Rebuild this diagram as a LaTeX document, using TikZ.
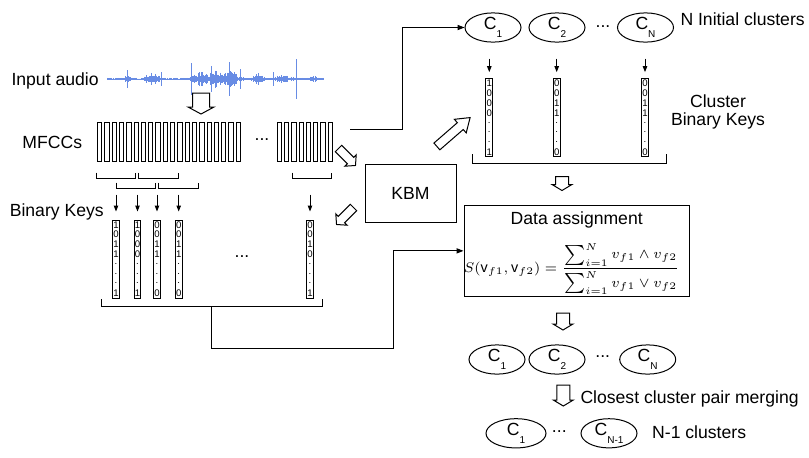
\documentclass[tikz,border=0pt]{standalone}
\usepackage{fontspec}
\setmainfont{Liberation Sans}
\usetikzlibrary{arrows.meta,shapes.geometric}

\definecolor{wavecol}{RGB}{104,140,228}

\newcommand{\winbracket}[4]{%
    \draw (#1,#3) -- (#1,#4) -- (#2,#4) -- (#2,#3);
}
\newcommand{\fatarrow}[7]{%
    \begin{scope}[shift={(#1,#2)}, rotate=#3]
        \draw[fill=white] ({-#4/2},{-#5/2}) -- ({#4/2-#7},{-#5/2}) -- ({#4/2-#7},{-#6/2})
            -- ({#4/2},0) -- ({#4/2-#7},{#6/2}) -- ({#4/2-#7},{#5/2}) -- ({-#4/2},{#5/2}) -- cycle;
    \end{scope}
}
\newcommand{\binkey}[4]{%
    \node[keybox] (#1) at (#2,#3) {};
    \foreach \bit [count=\row] in {#4} {
        \node[digit] at (#2,#3-39+9.75*\row-4.875) {\bit};
    }
}
\newcommand{\clab}[1]{C\raisebox{-0.9ex}{\fontsize{5}{5}\selectfont #1}}

\begin{document}
\begin{tikzpicture}[x=0.5pt, y=-0.5pt, line width=0.5pt,
    font=\fontsize{8.8}{10.5}\selectfont,
    keybox/.style={draw, rectangle, minimum width=3.4pt, minimum height=39pt, inner sep=0pt},
    digit/.style={inner sep=0pt, font=\fontsize{4.8}{5}\selectfont},
    cluster/.style={draw, ellipse, minimum width=28pt, minimum height=14.5pt, inner sep=0pt},
    lbl/.style={inner sep=0pt},
    keyarrow/.style={-{Triangle[length=3pt,width=2.2pt]}},
    flow/.style={-{Triangle[length=3.5pt,width=2.6pt]}},
    audiowave/.style={wavecol, line width=0.35pt}]
    \useasboundingbox (0,0) rectangle (809,457);

    % input audio
    \node[lbl, anchor=base west] (audio) at (11,85) {Input audio};
    \draw[audiowave] (107,79) -- (323,79);
    \pgfmathsetseed{17}
    \foreach \x in {107,108,...,323} {
        \pgfmathsetmacro\amp{(1.2 + 4*max(0,1-abs(\x-127)/4) + 6*max(0,1-abs(\x-152)/10)
            + 4*max(0,1-abs(\x-218)/30) + 5*max(0,1-abs(\x-200)/12) + 4*max(0,1-abs(\x-215)/8)
            + 6*max(0,1-abs(\x-231)/9) + 5*max(0,1-abs(\x-258)/8) + 3*max(0,1-abs(\x-282)/14)
            + 2.5*max(0,1-abs(\x-313)/6))*(0.35+0.65*rnd)}
        \draw[audiowave] (\x,79-\amp) -- (\x,79+\amp);
    }
    \foreach \x/\a in {127/9, 161/7, 191/16, 211/13, 229/17, 240/10, 273/7, 296/20} {
        \draw[audiowave] (\x,79-\a) -- (\x,79+\a);
    }
    \fatarrow{201}{103.5}{-90}{21}{17}{26}{7}

    % MFCC frames
    \node[lbl, anchor=base west] (mfcc) at (22,148) {MFCCs};
    \foreach \i in {0,...,19} {
        \draw (97.5+7.3*\i,122.7) rectangle ++(4.3,38.5);
    }
    \foreach \i in {0,...,7} {
        \draw (277.3+7.25*\i,122.7) rectangle ++(4.3,38.5);
    }
    \node (mfccdots) at (262,140) {...};

    % windows over the frames
    \winbracket{96}{135.7}{172.5}{178}
    \winbracket{138.3}{178.3}{172.5}{178}
    \winbracket{116}{155.7}{182.7}{188.3}
    \winbracket{158.3}{198.3}{182.7}{188.3}
    \winbracket{292}{331.5}{172.5}{178}

    % binary keys
    \node[lbl, anchor=base west] (bklabel) at (9.3,216) {Binary Keys};
    \binkey{bk1}{116}{259}{1,0,1,1,.,.,.,1}
    \binkey{bk2}{137.5}{259}{1,0,0,0,.,.,.,1}
    \binkey{bk3}{157}{259}{0,0,1,1,.,.,.,0}
    \binkey{bk4}{178.7}{259}{0,0,1,1,.,.,.,0}
    \binkey{bkn}{310}{259}{0,0,1,0,.,.,.,1}
    \node (bkdots) at (242,257) {...};
    \foreach \k in {bk1,bk2,bk3,bk4,bkn} {
        \draw[keyarrow] ([yshift=12.5pt]\k.north) -- ([yshift=4pt]\k.north);
    }
    \winbracket{101}{322.7}{299}{306.7}
    \coordinate (keysout) at (211.7,306.7);

    % KBM
    \node[draw, minimum width=45.5pt, minimum height=29pt] (kbm) at (410.5,193) {KBM};
    \fatarrow{347}{157}{-45}{24}{9}{16}{7}
    \fatarrow{345}{216}{-135}{24}{9}{16}{7}
    \fatarrow{453.5}{132}{41}{44}{9}{18}{13}

    % initial clusters
    \node[cluster] (c1) at (493,27.5) {\clab{1}};
    \node[cluster] (c2) at (557,27.5) {\clab{2}};
    \node[cluster] (cn) at (645.5,27.5) {\clab{N}};
    \node (topdots) at (603,26.7) {...};
    \node[lbl, anchor=base west] (initlabel) at (680,25) {N Initial clusters};
    \coordinate (mfccout) at (350,129);
    \draw[flow] (mfccout) -- ++(52,0) |- (c1.west);

    % cluster binary keys
    \binkey{ck1}{489.3}{117.7}{1,0,0,0,.,.,.,1}
    \binkey{ck2}{556.7}{117.7}{0,0,1,1,.,.,.,0}
    \binkey{ckn}{645}{117.7}{0,0,1,1,.,.,.,0}
    \draw[keyarrow, shorten <=8pt, shorten >=3pt] (ck1.north |- c1.south) -- (ck1.north);
    \draw[keyarrow, shorten <=8pt, shorten >=3pt] (ck2.north |- c2.south) -- (ck2.north);
    \draw[keyarrow, shorten <=8pt, shorten >=3pt] (ckn.north |- cn.south) -- (ckn.north);
    \node[lbl, align=center] (cklabel) at (718,112) {Cluster\\[-1.2pt]Binary Keys};
    \winbracket{472.7}{666}{154}{163.3}
    \fatarrow{562}{183.5}{-90}{14}{13}{20}{6}

    % data assignment
    \node[draw, minimum width=112.7pt, minimum height=45.8pt] (data) at (576.7,250.85) {};
    \node[lbl] (datatitle) at ([yshift=-7.5pt]data.north) {Data assignment};
    \node[lbl, font=\fontsize{7.2}{9}\selectfont] (formula) at ([yshift=-9pt, xshift=-2.5pt]data.center)
        {$\displaystyle S(\mathrm{v}_{f1},\mathrm{v}_{f2}) = \frac{\textstyle\sum_{i=1}^{N} v_{f1}\wedge v_{f2}}{\textstyle\sum_{i=1}^{N} v_{f1}\vee v_{f2}}$};
    \draw[flow] (keysout) |- ++(181.6,41.6) |- (data.west);
    \fatarrow{563}{321.5}{-90}{17}{13}{20}{6}

    % clusters after assignment
    \node[cluster] (m1) at (497,359.5) {\clab{1}};
    \node[cluster] (m2) at (557,359.5) {\clab{2}};
    \node[cluster] (mn) at (647.7,359.5) {\clab{N}};
    \node (middots) at (602.7,356.7) {...};
    \fatarrow{563.3}{395.5}{-90}{21}{13}{20}{6}
    \node[lbl, anchor=base west] (mergelabel) at (580,403) {Closest cluster pair merging};

    % merged clusters
    \node[cluster, minimum width=30pt, minimum height=13.4pt] (b1) at (516,433.3) {\clab{1}};
    \node[cluster, minimum height=13.4pt] (bn) at (609,433.3) {\clab{N-1}};
    \node (botdots) at (559.3,431.7) {...};
    \node[lbl, anchor=base west] (lastlabel) at (651.7,438) {N-1 clusters};
\end{tikzpicture}
\end{document}
